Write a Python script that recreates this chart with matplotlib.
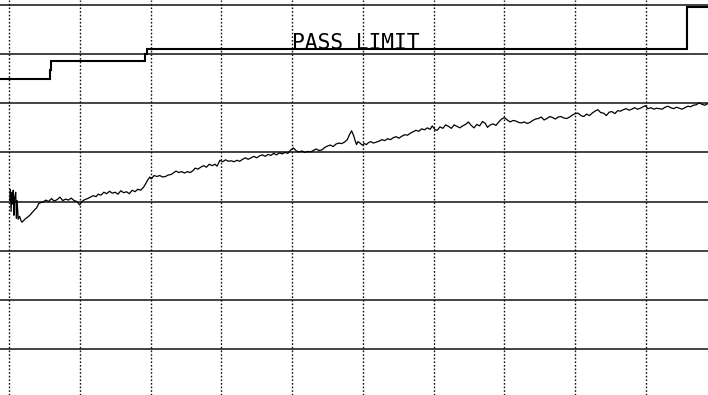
import matplotlib
matplotlib.use("Agg")
import matplotlib.pyplot as plt
import numpy as np

# grid divisions (10 dB / 10 MHz per division)
grid_db = [80, 70, 60, 50, 40, 30, 20, 10]
grid_mhz = [0, 10, 20, 30, 40, 50, 60, 70, 80, 90]

# stepped limit line
limit_mhz = [-1.3, 5.8, 5.8, 6.0, 6.0, 19.2, 19.2, 19.5, 19.5, 95.8, 95.8, 99.5]
limit_db = [65.0, 65.0, 66.8, 66.8, 68.6, 68.6, 70.0, 70.0, 71.0, 71.0, 79.5, 79.5]
limit_label = "PASS LIMIT"

# measured emission trace
trace_mhz = [
    0.1, 0.2, 0.3, 0.4, 0.5, 0.6, 0.7, 0.8, 0.95, 1.05, 1.15, 1.3, 1.5, 1.7, 1.85,
    2.1, 2.4, 2.7, 3.0, 3.3, 3.6, 3.9, 4.2, 4.5, 4.8,
    5.2, 5.6, 6.0, 6.4, 6.8, 7.2, 7.6, 8.0, 8.4, 8.8, 9.2, 9.6, 10.0, 10.3, 10.7,
    11.1, 11.5, 11.9, 12.3, 12.6, 13.0, 13.4, 13.8, 14.2, 14.6, 15.0, 15.4, 15.8,
    16.2, 16.6, 17.0, 17.4, 17.8, 18.2, 18.6, 19.0, 19.3, 19.6, 19.9, 20.1,
    20.5, 20.9, 21.3, 21.7, 22.1, 22.5, 22.9, 23.2, 23.6, 24.0, 24.4, 24.8, 25.2,
    25.6, 26.0, 26.3, 26.7, 27.1, 27.5, 27.9, 28.3, 28.7, 29.1, 29.4, 29.8, 30.2,
    30.6, 31.0, 31.4, 31.8, 32.2,
    32.6, 33.0, 33.4, 33.8, 34.2, 34.6, 35.0, 35.4, 35.8, 36.2, 36.6, 37.0, 37.4,
    37.8, 38.2, 38.6, 39.0, 39.4, 39.8, 40.2, 40.6, 41.0, 41.4, 41.8, 42.2, 42.6,
    43.0, 43.4, 43.8, 44.2, 44.6, 45.0, 45.4, 45.8, 46.2, 46.6, 47.0, 47.4, 47.8,
    48.1, 48.4, 48.7, 48.9, 49.1, 49.3, 49.6, 49.9, 50.2, 50.5, 50.8, 51.1, 51.5,
    51.9, 52.3, 52.7, 53.1, 53.5, 53.9, 54.3, 54.7, 55.1, 55.5, 55.9, 56.3, 56.7,
    57.1, 57.5, 57.9, 58.3, 58.7, 59.1, 59.5, 59.8, 60.2, 60.5, 60.9, 61.3, 61.7,
    62.1, 62.5, 62.9, 63.3, 63.7, 64.1, 64.5, 64.9, 65.3, 65.7, 66.1, 66.5, 66.9,
    67.3, 67.6, 68.0, 68.4, 68.8, 69.2, 69.6, 70.0, 70.4, 70.8, 71.2, 71.6, 72.0,
    72.4, 72.8, 73.2, 73.6, 74.0, 74.4,
    74.8, 75.2, 75.6, 76.0, 76.4, 76.8, 77.2, 77.6, 78.0, 78.4, 78.8, 79.2, 79.6,
    80.0, 80.4, 80.8, 81.2, 81.6, 82.0, 82.4, 82.8, 83.2, 83.6, 84.0, 84.4, 84.8,
    85.2, 85.6, 86.0, 86.4, 86.8, 87.2, 87.6, 88.0, 88.4, 88.8, 89.2, 89.6, 89.9,
    90.3, 90.7, 91.1, 91.5, 91.9, 92.3, 92.7, 93.1, 93.5, 93.9, 94.3, 94.7, 95.1,
    95.5, 95.9, 96.3, 96.7, 97.1, 97.5, 97.9, 98.3, 98.7,
]
trace_db = [
    40.3, 42.4, 38.0, 41.8, 39.5, 42.3, 37.2, 40.8, 41.9, 36.6, 40.2, 36.4, 37.0, 36.1, 35.8,
    36.2, 36.6, 36.9, 37.3, 37.8, 38.3, 38.7, 39.6, 39.8, 39.9,
    40.3, 40.0, 40.6, 40.1, 40.4, 40.9, 40.2, 40.5, 40.3, 40.7, 40.2, 40.0, 39.3, 40.0, 40.4,
    40.6, 40.9, 41.2, 41.0, 41.5, 41.3, 41.9, 41.6, 42.1, 41.7, 41.9, 41.5, 42.2,
    41.8, 42.0, 41.6, 42.3, 42.0, 42.5, 42.3, 42.9, 43.6, 44.4, 45.0, 44.6,
    45.3, 45.1, 45.3, 45.0, 45.1, 45.4, 45.5, 45.8, 46.2, 45.9, 46.1, 45.8, 46.1,
    45.9, 46.3, 46.8, 46.6, 47.0, 47.3, 47.0, 47.6, 47.3, 47.6, 47.2, 48.4, 48.1,
    48.5, 48.2, 48.3, 48.1, 48.4,
    48.2, 48.6, 48.9, 48.6, 48.9, 49.2, 48.9, 49.3, 49.5, 49.2, 49.6, 49.4, 49.8,
    49.5, 49.9, 49.7, 50.0, 49.8, 50.5, 50.9, 50.3, 50.1, 50.3, 50.0, 50.2, 50.1,
    50.4, 50.7, 50.4, 50.5, 51.0, 51.3, 51.5, 51.2, 51.7, 51.9, 51.8, 52.1, 52.6,
    53.6, 54.4, 53.4, 52.4, 51.6, 52.2, 51.9, 51.5, 51.8, 51.6, 52.0, 52.2, 51.9,
    52.1, 52.3, 52.6, 52.4, 52.8, 52.6, 53.0, 53.2, 52.9, 53.3, 53.6, 53.5, 53.9,
    54.2, 54.5, 54.3, 54.8, 54.6, 55.0, 54.7, 55.4, 54.6, 54.5, 55.2, 54.9, 55.6,
    55.3, 54.9, 55.6, 55.3, 55.0, 55.4, 55.7, 56.2, 55.5, 55.0, 55.7, 55.4, 56.3,
    55.9, 55.1, 55.6, 55.8, 55.5, 56.2, 56.8, 57.1, 56.6, 56.2, 56.5, 56.4, 56.1,
    56.0, 56.2, 55.9, 56.1, 56.5, 56.8,
    56.9, 57.2, 56.6, 56.9, 57.3, 57.1, 56.8, 57.2, 57.3, 57.0, 56.9, 57.2, 57.6,
    57.9, 58.0, 57.5, 57.3, 57.8, 57.5, 58.0, 58.4, 58.7, 58.1, 58.0, 57.5, 58.2,
    58.3, 57.9, 58.5, 58.4, 58.7, 58.9, 58.6, 58.8, 59.1, 58.8, 59.0, 59.3, 59.5,
    58.9, 59.1, 58.8, 59.0, 58.9, 58.8, 59.2, 59.4, 59.1, 58.9, 59.2, 59.0, 58.8,
    59.1, 59.4, 59.3, 59.6, 59.7, 60.1, 59.8, 59.6, 59.9,
]

fig = plt.figure(figsize=(7.08, 3.95), dpi=100)
ax = fig.add_axes([0, 0, 1, 1])
ax.set_xlim(-1.27, 98.76)
ax.set_ylim(0.63, 81.02)
ax.axis("off")

# plotter grid: solid horizontals, dotted verticals
for d in grid_db:
    ax.axhline(d, color="#111111", lw=1.1, zorder=1)
for f in grid_mhz:
    ax.axvline(f, color="#111111", lw=1.0, ls=(0, (1.2, 1.4)), zorder=1)

ax.plot(limit_mhz, limit_db, color="black", lw=1.5, zorder=3,
        solid_joinstyle="miter")
ax.text(40.0, 71.1, limit_label, family="DejaVu Sans Mono", fontsize=15.3,
        ha="left", va="baseline", color="black", zorder=4)

ax.plot(trace_mhz, trace_db, color="black", lw=0.9, zorder=3)

fig.savefig("out.png", dpi=100)
